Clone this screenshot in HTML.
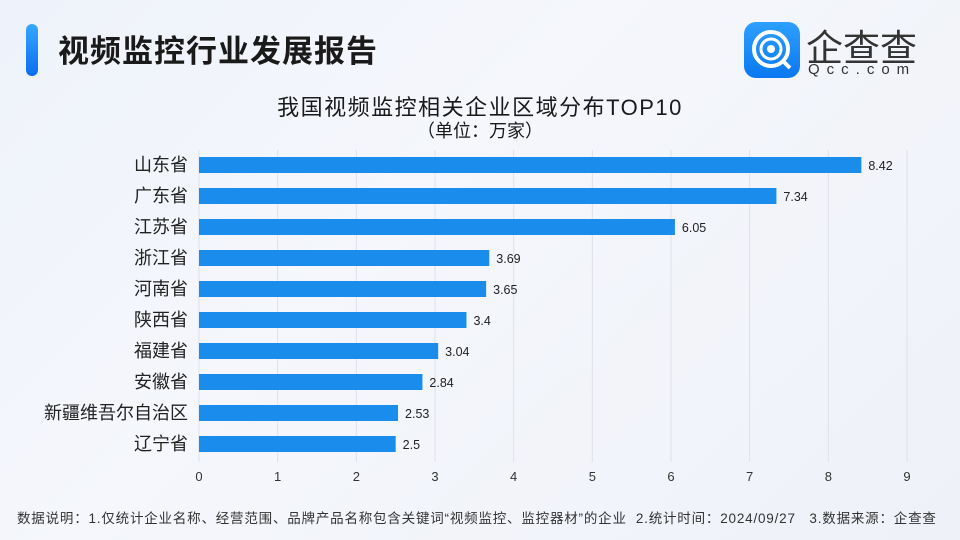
<!DOCTYPE html>
<html><head><meta charset="utf-8"><style>
body{margin:0;width:960px;height:540px;overflow:hidden;background:linear-gradient(135deg,#eef2fa 0%,#f5f7fc 40%,#eef1f8 100%);font-family:"Liberation Sans","Noto Sans CJK SC",sans-serif;position:relative}
.t{position:absolute}
</style></head><body>
<div class="t" style="left:26px;top:24px;width:12px;height:52px;border-radius:6px;background:linear-gradient(#35a8ff,#0a6cf0)"></div>
<div class="t" style="left:58px;top:26px;font-size:31px;font-weight:bold;color:#1a1a1a;letter-spacing:1px">视频监控行业发展报告</div>
<div class="t" style="left:744px;top:22px;width:56px;height:56px;border-radius:12px;background:linear-gradient(#2ea0ff,#0a78f0)">
<svg width="56" height="56"><circle cx="27" cy="27" r="17" fill="none" stroke="#fff" stroke-width="4"/><circle cx="27" cy="27" r="10" fill="none" stroke="#fff" stroke-width="3"/><circle cx="27" cy="27" r="4" fill="#fff"/><line x1="38" y1="38" x2="46" y2="46" stroke="#fff" stroke-width="4"/></svg></div>
<div class="t" style="left:806px;top:18px;font-size:37px;color:#333">企查查</div>
<div class="t" style="left:808px;top:61px;font-size:15px;color:#333;letter-spacing:7px">Qcc.com</div>
<div class="t" style="left:0;width:960px;text-align:center;top:90px;font-size:22px;letter-spacing:1.5px;color:#1a1a1a">我国视频监控相关企业区域分布TOP10</div>
<div class="t" style="left:0;width:960px;text-align:center;top:117px;font-size:18px;color:#1a1a1a">（单位：万家）</div>
<svg id="c" class="t" style="left:0;top:0" width="960" height="540"></svg>
<div class="t" style="left:17px;top:507px;font-size:13.5px;letter-spacing:0.8px;color:#333;white-space:nowrap">数据说明：1.仅统计企业名称、经营范围、品牌产品名称包含关键词“视频监控、监控器材”的企业&nbsp;&nbsp;2.统计时间：2024/09/27&nbsp;&nbsp;&nbsp;3.数据来源：企查查</div>
<script>
const categories=["山东省","广东省","江苏省","浙江省","河南省","陕西省","福建省","安徽省","新疆维吾尔自治区","辽宁省"];
const values=[8.42,7.34,6.05,3.69,3.65,3.4,3.04,2.84,2.53,2.5];
const ticks=[0,1,2,3,4,5,6,7,8,9];
const svg=document.getElementById('c');const NS='http://www.w3.org/2000/svg';
const x0=199,x1=907,xmax=9;const X=v=>x0+(x1-x0)*v/xmax;
const Y=i=>165+i*31;
function mk(t,a){const e=document.createElementNS(NS,t);for(const k in a)e.setAttribute(k,a[k]);svg.appendChild(e);return e;}
ticks.forEach(t=>{
const g=mk('line',{x1:X(t),x2:X(t),y1:150,y2:462,stroke:'#dde1e8','stroke-width':1});


const l=mk('text',{x:X(t),y:481,'text-anchor':'middle','font-size':13,fill:'#333'});l.textContent=t;


});
categories.forEach((c,i)=>{
const b=mk('rect',{x:X(0),y:Y(i)-8,width:X(values[i])-X(0),height:16,fill:'#1a8cec'});


const l=mk('text',{x:188,y:Y(i)+6,'text-anchor':'end','font-size':18,fill:'#222'});l.textContent=c;


const v=mk('text',{x:X(values[i])+7,y:Y(i)+5,'font-size':12.5,fill:'#222'});v.textContent=values[i];


});
</script>
</body></html>
